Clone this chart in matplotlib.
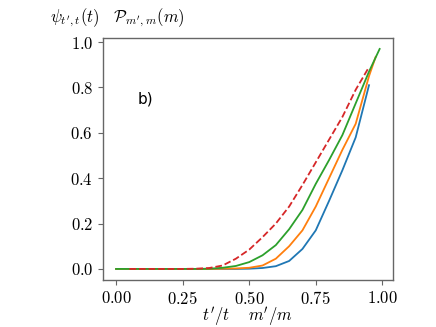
import matplotlib
matplotlib.use("Agg")
import matplotlib.pyplot as plt

# --- data ---
x_blue = [0.0, 0.05, 0.1, 0.15, 0.2, 0.25, 0.3, 0.35, 0.4, 0.45, 0.5,
          0.55, 0.6, 0.65, 0.7, 0.75, 0.8, 0.85, 0.9, 0.95]
y_blue = [0.0, 0.0, 0.0, 0.0, 0.0, 0.0, 0.0, 0.0, 0.0, 0.0, 0.001,
          0.004, 0.012, 0.035, 0.088, 0.17, 0.30, 0.435, 0.58, 0.81]

x_orange = [0.0, 0.05, 0.1, 0.15, 0.2, 0.25, 0.3, 0.35, 0.4, 0.45, 0.5,
            0.55, 0.6, 0.65, 0.7, 0.75, 0.8, 0.85, 0.9, 0.95, 0.975]
y_orange = [0.0, 0.0, 0.0, 0.0, 0.0, 0.0, 0.0, 0.0, 0.001, 0.002, 0.005,
            0.015, 0.045, 0.10, 0.17, 0.275, 0.40, 0.525, 0.64, 0.85, 0.935]

x_green = [0.0, 0.05, 0.1, 0.15, 0.2, 0.25, 0.3, 0.35, 0.4, 0.45, 0.5,
           0.55, 0.6, 0.65, 0.7, 0.75, 0.8, 0.85, 0.9, 0.95, 0.99]
y_green = [0.0, 0.0, 0.0, 0.0, 0.0, 0.0, 0.0, 0.001, 0.005, 0.013, 0.03,
           0.06, 0.105, 0.175, 0.26, 0.375, 0.48, 0.59, 0.73, 0.87, 0.97]

x_red = [0.05, 0.1, 0.15, 0.2, 0.25, 0.3, 0.35, 0.4, 0.45, 0.5,
         0.55, 0.6, 0.65, 0.7, 0.75, 0.8, 0.85, 0.9, 0.95]
y_red = [0.0, 0.0, 0.0, 0.0, 0.0, 0.001, 0.004, 0.015, 0.045, 0.085,
         0.14, 0.20, 0.275, 0.37, 0.47, 0.57, 0.67, 0.79, 0.89]

x_ticks = [0.0, 0.25, 0.5, 0.75, 1.0]
y_ticks = [0.0, 0.2, 0.4, 0.6, 0.8, 1.0]

# --- style ---
plt.rcParams["font.family"] = "serif"
plt.rcParams["font.serif"] = ["cmr10"]
plt.rcParams["mathtext.fontset"] = "cm"
plt.rcParams["axes.formatter.use_mathtext"] = True

fig = plt.figure(figsize=(4.36, 3.27), dpi=100)
ax = fig.add_axes([0.236, 0.144, 0.665, 0.740])

ax.plot(x_blue, y_blue, color="#1f77b4", lw=1.3)
ax.plot(x_orange, y_orange, color="#ff7f0e", lw=1.3)
ax.plot(x_green, y_green, color="#2ca02c", lw=1.3)
ax.plot(x_red, y_red, color="#d62728", lw=1.3, ls="--")

ax.set_xticks(x_ticks)
ax.set_yticks(y_ticks)
ax.set_xticklabels([f"${v:.2f}$" for v in x_ticks])
ax.set_yticklabels([f"${v:.1f}$" for v in y_ticks])
ax.tick_params(labelsize=12, color="#666666", length=3.5, width=0.8)
for s in ax.spines.values():
    s.set_color("#666666")
    s.set_linewidth(1.0)

ax.text(0.08, 0.75, "b)", family="DejaVu Sans", fontsize=11,
        transform=ax.transData, va="center")

# axis labels placed as in the reference
fig.text(0.269, 0.946, r"$\psi_{t',t}(t)\quad\mathcal{P}_{m',m}(m)$",
         fontsize=12, ha="center", va="center")
fig.text(0.568, 0.031, r"$t'/t\quad\ m'/m$", fontsize=12,
         ha="center", va="center")

fig.savefig("out.png", dpi=100)
